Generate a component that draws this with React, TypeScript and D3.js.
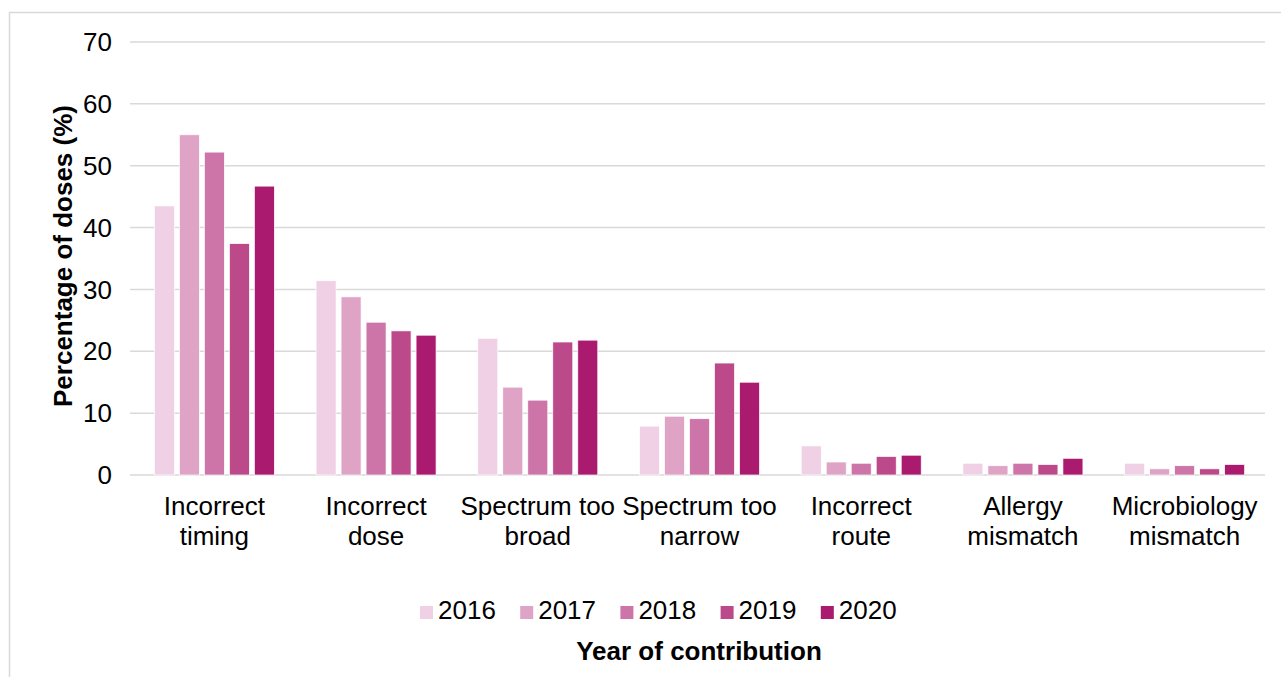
import React from "react";
import * as d3 from "d3";

const categories: string[][] = [
  ["Incorrect", "timing"],
  ["Incorrect", "dose"],
  ["Spectrum too", "broad"],
  ["Spectrum too", "narrow"],
  ["Incorrect", "route"],
  ["Allergy", "mismatch"],
  ["Microbiology", "mismatch"],
];
const years = ["2016", "2017", "2018", "2019", "2020"];
const colors = ["#f0d0e4", "#dfa3c6", "#cd74a8", "#bc4a8a", "#aa1a6e"];
const v2016 = [43.5, 31.4, 22.1, 7.9, 4.7, 1.9, 1.9];
const v2017 = [55.0, 28.8, 14.2, 9.5, 2.1, 1.5, 1.0];
const v2018 = [52.2, 24.7, 12.1, 9.1, 1.9, 1.9, 1.5];
const v2019 = [37.4, 23.3, 21.5, 18.1, 3.0, 1.7, 1.0];
const v2020 = [46.7, 22.6, 21.8, 15.0, 3.2, 2.7, 1.7];
const series = [v2016, v2017, v2018, v2019, v2020];
const yTicks = [0, 10, 20, 30, 40, 50, 60, 70];

export default function App() {
  const W = 1281, H = 677;
  const left = 133.5, right = 1265.5, top = 42, bottom = 475;
  const font = "Liberation Sans, Arial, sans-serif";
  const y = d3.scaleLinear().domain([0, 70]).range([bottom, top]);
  const x0 = d3.scaleBand<number>().domain(categories.map((_, i) => i)).range([left, right]).paddingInner(0.258).paddingOuter(0.129);
  const x1 = d3.scaleBand<number>().domain(years.map((_, i) => i)).range([0, x0.bandwidth()]).paddingInner(0.2);
  const fs = 26;
  return (
    <svg width={W} height={H} style={{ position: "absolute", left: 0, top: 0, display: "block" }} fontFamily={font}>
      <rect x={9.5} y={12.5} width={W} height={H} fill="#fff" stroke="#d9d9d9" strokeWidth={1.5} />
      {yTicks.map((t) => (
        <g key={t}>
          <line x1={130} x2={1265} y1={y(t)} y2={y(t)} stroke="#d9d9d9" strokeWidth={1.5} />
          <text x={112} y={y(t)} dy="0.35em" textAnchor="end" fontSize={fs} fill="#000">{t}</text>
        </g>
      ))}
      {series.map((vals, s) =>
        vals.map((v, c) => (
          <rect key={`${s}-${c}`} x={(x0(c) as number) + (x1(s) as number)} y={y(v)} width={x1.bandwidth()} height={bottom - y(v)} fill={colors[s]} stroke="#fff" strokeWidth={0.7} />
        ))
      )}
      {categories.map((lines, c) => (
        <text key={c} y={515} textAnchor="middle" fontSize={fs} fill="#000">
          {lines.map((l, i) => (
            <tspan key={i} x={(x0(c) as number) + x0.bandwidth() / 2} dy={i === 0 ? 0 : 30}>{l}</tspan>
          ))}
        </text>
      ))}
      <text transform={`translate(72,256) rotate(-90)`} textAnchor="middle" fontSize={fs} fontWeight="bold" fill="#000">Percentage of doses (%)</text>
      {years.map((yr, i) => (
        <g key={yr} transform={`translate(${420 + i * 100.2},0)`}>
          <rect x={0} y={606} width={13} height={13} fill={colors[i]} />
          <text x={18} y={619} fontSize={fs} fill="#000">{yr}</text>
        </g>
      ))}
      <text x={699} y={660} textAnchor="middle" fontSize={fs} fontWeight="bold" fill="#000">Year of contribution</text>
    </svg>
  );
}
